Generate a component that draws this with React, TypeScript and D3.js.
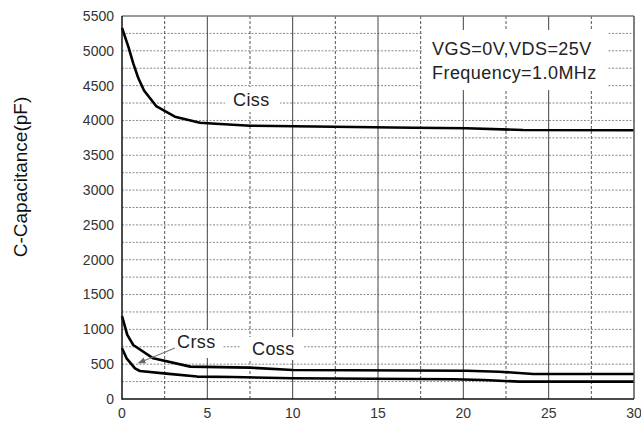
import React from "react";
import * as d3 from "d3";

const xTicks = [0, 5, 10, 15, 20, 25, 30];
const yTicks = [0, 500, 1000, 1500, 2000, 2500, 3000, 3500, 4000, 4500, 5000, 5500];
const xDashed = [2.5, 7.5, 12.5, 17.5, 22.5, 27.5];
const yDashed = [250, 500, 750, 1000, 1250, 1500, 1750, 2000, 2250, 2500, 2750, 3000, 3250, 3500, 3750, 4000, 4250, 4500, 4750, 5000, 5250];

const cissX = [0, 0.37, 0.66, 0.96, 1.29, 2.0, 3.1, 4.57, 5.74, 7.5, 12.4, 17.1, 20.2, 23.5, 30];
const cissY = [5330, 5060, 4820, 4605, 4430, 4207, 4054, 3968, 3949, 3925, 3910, 3896, 3887, 3863, 3860];

const cossX = [0, 0.31, 0.66, 1.83, 4.0, 7.5, 10.0, 20.2, 22.1, 24.1, 30];
const cossY = [1190, 920, 775, 584, 465, 450, 416, 405, 392, 360, 358];

const crssX = [0, 0.27, 0.76, 1.05, 2.6, 4.4, 6.5, 10.0, 19.4, 21.2, 23.3, 30];
const crssY = [728, 584, 441, 402, 365, 322, 315, 297, 283, 273, 249, 249];

const yLabel = "C-Capacitance(pF)";
const condLines = ["VGS=0V,VDS=25V", "Frequency=1.0MHz"];

const FONT = "'Liberation Sans', Arial, Helvetica, sans-serif";

export default function App() {
  const W = 641, H = 424;
  const left = 122, right = 634, top = 16, bottom = 399;
  const x = d3.scaleLinear().domain([0, 30]).range([left, right]);
  const y = d3.scaleLinear().domain([0, 5500]).range([bottom, top]);
  const line = d3.line<[number, number]>().x(d => x(d[0])).y(d => y(d[1]));
  const mk = (xs: number[], ys: number[]) => xs.map((v, i) => [v, ys[i]] as [number, number]);

  return (
    <svg width={W} height={H} style={{ position: "fixed", left: 0, top: 0, background: "#fff" }} fontFamily={FONT}>
      <rect x={0} y={0} width={W} height={H} fill="#fff" />
      {yDashed.map(v => (
        <line key={"hy" + v} x1={left} x2={right} y1={y(v)} y2={y(v)} stroke="#8a8a8a" strokeWidth={1} strokeDasharray="2,1.5" />
      ))}
      {xDashed.map(v => (
        <line key={"vx" + v} x1={x(v)} x2={x(v)} y1={top} y2={bottom} stroke="#555" strokeWidth={1} strokeDasharray="3,2" />
      ))}
      {xTicks.slice(1, -1).map(v => (
        <line key={"sx" + v} x1={x(v)} x2={x(v)} y1={top} y2={bottom} stroke="#444" strokeWidth={1} />
      ))}
      {/* label background boxes */}
      <rect x={422} y={30} width={186} height={60} fill="#fff" />
      <rect x={225} y={87} width={55} height={25} fill="#fff" />
      <rect x={168} y={330} width={54} height={28} fill="#fff" />
      <rect x={240} y={337} width={63} height={23} fill="#fff" />

      <path d={line(mk(cissX, cissY)) || ""} fill="none" stroke="#000" strokeWidth={2.6} strokeLinejoin="round" />
      <path d={line(mk(cossX, cossY)) || ""} fill="none" stroke="#000" strokeWidth={2.6} strokeLinejoin="round" />
      <path d={line(mk(crssX, crssY)) || ""} fill="none" stroke="#000" strokeWidth={2.6} strokeLinejoin="round" />

      {/* frame */}
      <line x1={left} x2={right} y1={top} y2={top} stroke="#777" strokeWidth={1.5} />
      <line x1={right} x2={right} y1={top} y2={bottom} stroke="#555" strokeWidth={1.5} />
      <line x1={left} x2={left} y1={top} y2={bottom + 0.75} stroke="#111" strokeWidth={1.5} />
      <line x1={left} x2={right} y1={bottom} y2={bottom} stroke="#111" strokeWidth={1.5} />

      {yTicks.map(v => (
        <text key={"yt" + v} x={114} y={y(v)} dy="0.35em" textAnchor="end" fontSize={14} fill="#333">{v}</text>
      ))}
      {xTicks.map(v => (
        <text key={"xt" + v} x={x(v)} y={418} textAnchor="middle" fontSize={14} fill="#333">{v}</text>
      ))}

      <text transform={`translate(27,177) rotate(-90)`} textAnchor="middle" fontSize={19} fill="#111">{yLabel}</text>

      <text x={432} y={55} fontSize={18} letterSpacing={0.45} fill="#222">{condLines[0]}</text>
      <text x={432} y={79} fontSize={18} letterSpacing={0.45} fill="#222">{condLines[1]}</text>

      <text x={233} y={105.5} fontSize={18} letterSpacing={0.4} fill="#222">Ciss</text>
      <text x={252} y={355} fontSize={18} letterSpacing={0.4} fill="#222">Coss</text>
      <text x={177} y={347.5} fontSize={18} letterSpacing={0.4} fill="#222">Crss</text>

      <defs>
        <marker id="arr" viewBox="0 0 10 10" refX={9} refY={5} markerWidth={7} markerHeight={7} orient="auto">
          <path d="M0,1 L10,5 L0,9 z" fill="#666" />
        </marker>
      </defs>
      <line x1={175} y1={348} x2={138.5} y2={363} stroke="#777" strokeWidth={1.1} markerEnd="url(#arr)" />
    </svg>
  );
}
